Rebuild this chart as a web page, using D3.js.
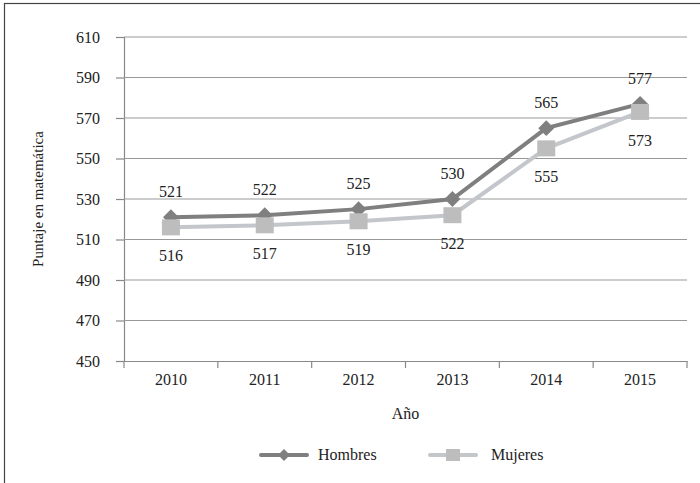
<!DOCTYPE html>
<html>
<head>
<meta charset="utf-8">
<script src="https://cdn.jsdelivr.net/npm/d3@7"></script>
<style>
  body { margin: 0; background: #fff; }
  svg text { font-family: "Liberation Serif", "DejaVu Serif", serif !important; fill: #222; }
</style>
</head>
<body>
<div id="chart"></div>
<script>
// data
const years = ["2010", "2011", "2012", "2013", "2014", "2015"];
const hombres = [521, 522, 525, 530, 565, 577];
const mujeres = [516, 517, 519, 522, 555, 573];
const yTicks = [450, 470, 490, 510, 530, 550, 570, 590, 610];

const width = 700, height = 483;
const margin = { left: 124, right: 13, top: 37, bottom: 121 };

const svg = d3.select("#chart")
    .append("svg")
    .attr("width", width)
    .attr("height", height);

// outer frame (only left and top edges show)
svg.append("rect")
    .attr("x", 4.5).attr("y", 3.5)
    .attr("width", 720).attr("height", 500)
    .style("fill", "none")
    .style("stroke", "#444")
    .style("stroke-width", 1.2);

const x = d3.scaleBand()
    .domain(years)
    .range([margin.left, width - margin.right]);

const y = d3.scaleLinear()
    .domain([450, 610])
    .range([height - margin.bottom - 1, margin.top]);

// gridlines + y axis
const yAxis = svg.append("g")
    .attr("transform", `translate(${margin.left},0)`)
    .call(d3.axisLeft(y).tickValues(yTicks).tickSize(8).tickPadding(16)
        .tickFormat(d3.format("d")));
yAxis.attr("font-family", null).attr("font-size", null);
yAxis.select(".domain").style("stroke", "#888").style("stroke-width", 1.2);
yAxis.selectAll(".tick line").style("stroke", "#888").style("stroke-width", 1.2);
yAxis.selectAll(".tick text").style("font-size", "16px");

svg.append("g")
    .selectAll("line")
    .data(yTicks.filter(d => d > 450))
    .join("line")
    .attr("x1", margin.left).attr("x2", width - margin.right)
    .attr("y1", d => y(d)).attr("y2", d => y(d))
    .style("stroke", "#999")
    .style("stroke-width", 1.2);

// x axis
const xAxis = svg.append("g")
    .attr("transform", `translate(0,${y(450)})`)
    .call(d3.axisBottom(x).tickSize(0).tickPadding(13));
xAxis.attr("font-family", null).attr("font-size", null);
xAxis.select(".domain").style("stroke", "#888").style("stroke-width", 1.2);
xAxis.selectAll(".tick text").style("font-size", "16px");

// tick marks at category boundaries
svg.append("g")
    .selectAll("line")
    .data(years.map(d => x(d)).concat([x(years[years.length - 1]) + x.bandwidth()]))
    .join("line")
    .attr("x1", d => d).attr("x2", d => d)
    .attr("y1", y(450)).attr("y2", y(450) + 7)
    .style("stroke", "#888")
    .style("stroke-width", 1.2);

// axis titles
svg.append("text")
    .text("Año")
    .attr("x", x("2012") + x.bandwidth())
    .attr("y", 419)
    .attr("text-anchor", "middle")
    .style("font-size", "16px");

svg.append("text")
    .text("Puntaje en matemática")
    .attr("transform", `translate(43,${y(530)}) rotate(-90)`)
    .attr("text-anchor", "middle")
    .style("font-size", "15px");

const cx = d => x(d) + x.bandwidth() / 2;
const line = d3.line().x((d, i) => cx(years[i])).y(d => y(d));

const colH = "#7f7f7f", colM = "#c3c6ca", markM = "#bdbdbd";

// Mujeres
svg.append("path")
    .datum(mujeres)
    .attr("d", line)
    .style("fill", "none")
    .style("stroke", colM)
    .style("stroke-width", 4);

// Hombres
svg.append("path")
    .datum(hombres)
    .attr("d", line)
    .style("fill", "none")
    .style("stroke", colH)
    .style("stroke-width", 4);

svg.append("g")
    .selectAll("path")
    .data(hombres)
    .join("path")
    .attr("d", d3.symbol().type(d3.symbolDiamond2).size(160))
    .attr("transform", (d, i) => `translate(${cx(years[i])},${y(d)})`)
    .style("fill", colH);

svg.append("g")
    .selectAll("rect")
    .data(mujeres)
    .join("rect")
    .attr("x", (d, i) => cx(years[i]) - 9)
    .attr("y", d => y(d) - 8)
    .attr("width", 18)
    .attr("height", 16)
    .style("fill", markM);

// data labels
svg.append("g")
    .selectAll("text")
    .data(hombres)
    .join("text")
    .text(d => d)
    .attr("x", (d, i) => cx(years[i]))
    .attr("y", d => y(d) - 20)
    .attr("text-anchor", "middle")
    .style("font-size", "16px");

svg.append("g")
    .selectAll("text")
    .data(mujeres)
    .join("text")
    .text(d => d)
    .attr("x", (d, i) => cx(years[i]))
    .attr("y", d => y(d) + 34)
    .attr("text-anchor", "middle")
    .style("font-size", "16px");

// legend
const legend = svg.append("g").attr("transform", "translate(0,455)");
legend.append("line")
    .attr("x1", 261).attr("x2", 307).attr("y1", 0).attr("y2", 0)
    .style("stroke", colH).style("stroke-width", 4).style("stroke-linecap", "round");
legend.append("path")
    .attr("d", d3.symbol().type(d3.symbolDiamond2).size(90))
    .attr("transform", "translate(284,0)")
    .style("fill", colH);
legend.append("text").text("Hombres")
    .attr("x", 318).attr("y", 5).style("font-size", "16px");

legend.append("line")
    .attr("x1", 430).attr("x2", 476).attr("y1", 0).attr("y2", 0)
    .style("stroke", colM).style("stroke-width", 4).style("stroke-linecap", "round");
legend.append("rect")
    .attr("x", 446).attr("y", -6).attr("width", 14).attr("height", 12)
    .style("fill", markM);
legend.append("text").text("Mujeres")
    .attr("x", 491).attr("y", 5).style("font-size", "16px");
</script>
</body>
</html>
